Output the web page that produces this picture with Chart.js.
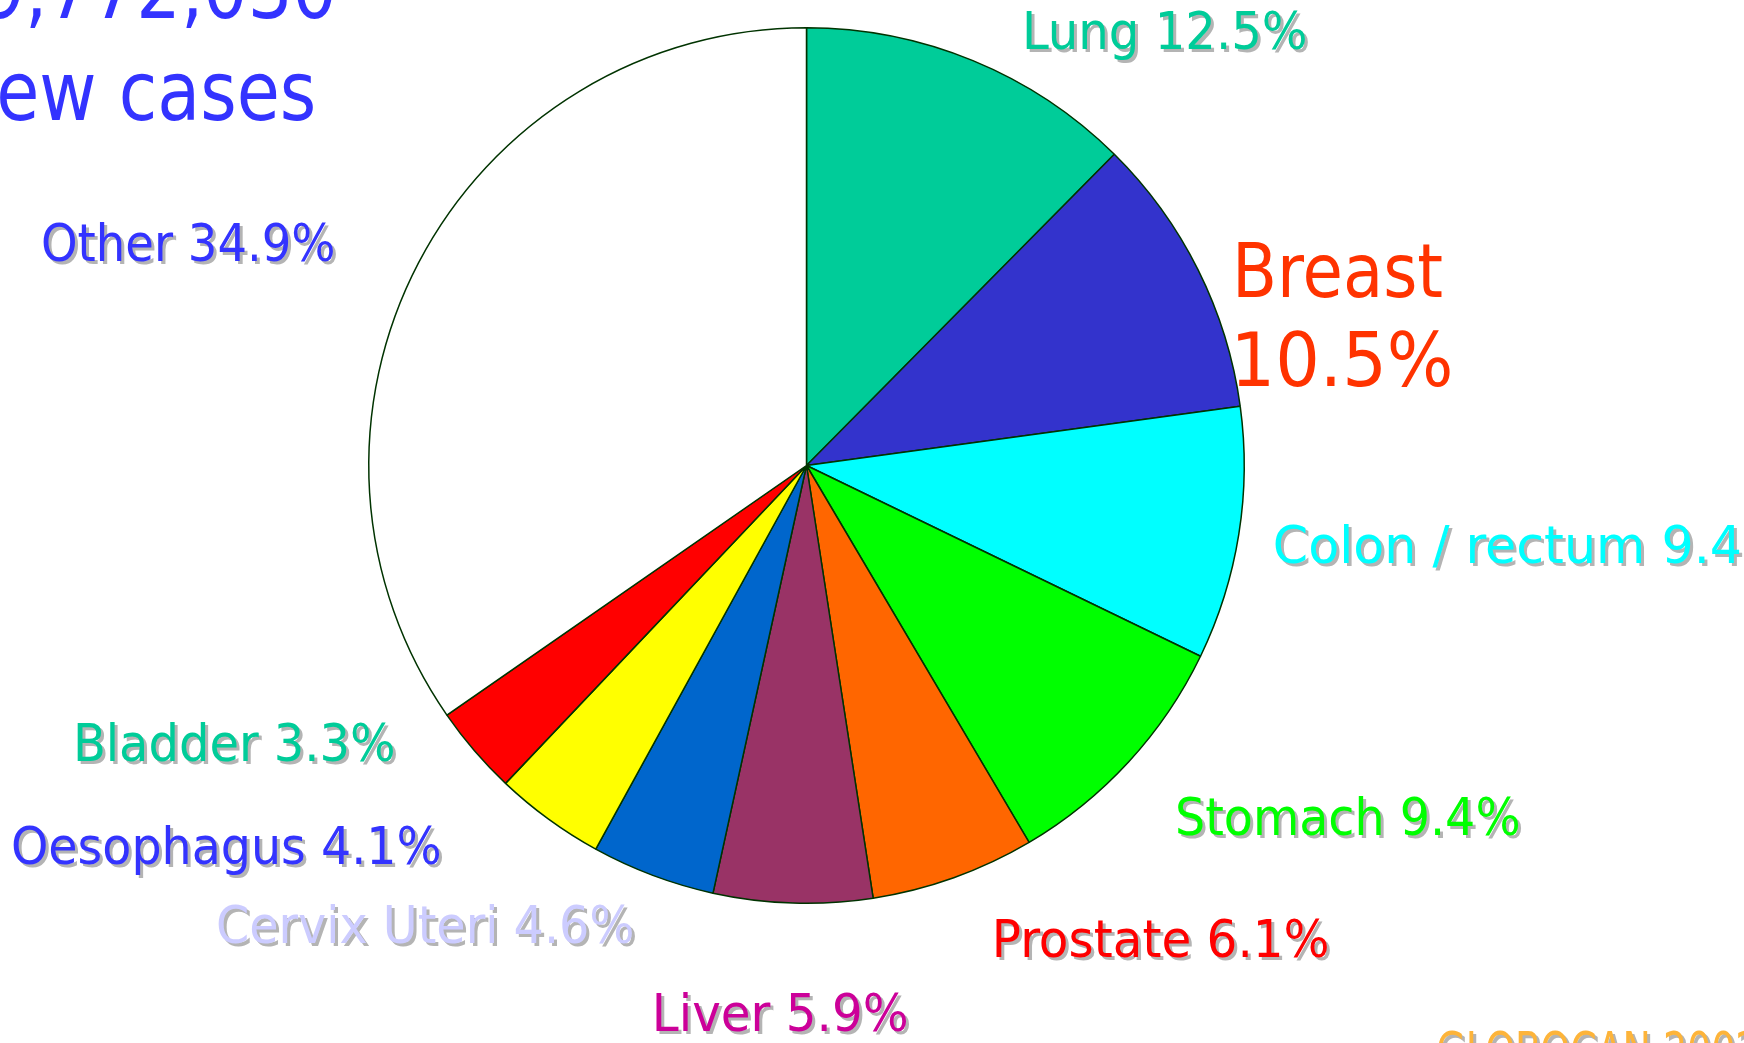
<!DOCTYPE html>
<html>
<head>
<meta charset="utf-8">
<script src="https://cdn.jsdelivr.net/npm/chart.js@4.4.0/dist/chart.umd.min.js"></script>
<style>
  html, body { margin: 0; padding: 0; background: #fff; overflow: hidden; }
  canvas { display: block; }
</style>
</head>
<body>
<canvas id="pie" width="1744" height="1043"></canvas>
<script>
// data
const categories = ['Lung', 'Breast', 'Colon / rectum', 'Stomach', 'Prostate', 'Liver', 'Cervix Uteri', 'Oesophagus', 'Bladder', 'Other'];
const shares = [12.5, 10.5, 9.4, 9.4, 6.1, 5.9, 4.6, 4.1, 3.3, 34.9];
const sliceColors = ['#00cc99', '#3333cc', '#00ffff', '#00ff00', '#ff6600', '#993366', '#0066cc', '#ffff00', '#ff0000', '#ffffff'];
const labelColors = ['#00cc99', '#ff3300', '#00ffff', '#00ff00', '#ff0000', '#cc0099', '#ccccff', '#3333ff', '#00cc99', '#3333ff'];
const titleLines = ['9,772,030', 'New cases'];
const sourceText = 'GLOBOCAN 2002';

// where each label sits (left ink edge, baseline, ink width, cap height)
const labelBoxes = [
  { x: 1026, y: 49,   w: 279, cap: 38, shadow: true },
  { x: 1238, y: 297,  w: 204, cap: 54, shadow: false, split: true, y2: 386, w2: 212 },
  { x: 1275, y: 563,  w: 465, cap: 38, shadow: true, fit: 'Colon / rectum 9.4' },
  { x: 1178, y: 835,  w: 340, cap: 38, shadow: true },
  { x: 996,  y: 957,  w: 331, cap: 38, shadow: true },
  { x: 656,  y: 1031, w: 250, cap: 38, shadow: true },
  { x: 218,  y: 943,  w: 414, cap: 38, shadow: true },
  { x: 13,   y: 864,  w: 426, cap: 38, shadow: true },
  { x: 77,   y: 761,  w: 316, cap: 38, shadow: true },
  { x: 43,   y: 261,  w: 290, cap: 38, shadow: true }
];

const FONT = '"DejaVu Sans Condensed", "DejaVu Sans", sans-serif';

function fitted(ctx, text, x, base, w, cap, color, shadow, fitText) {
  ctx.font = (cap / 0.73).toFixed(1) + 'px ' + FONT;
  const m = ctx.measureText(fitText || text);
  const ink = m.actualBoundingBoxLeft + m.actualBoundingBoxRight;
  const sx = w / ink;
  ctx.save();
  ctx.translate(x, base);
  ctx.scale(sx, 1);
  ctx.textAlign = 'left';
  ctx.textBaseline = 'alphabetic';
  if (shadow) {
    ctx.fillStyle = '#b4b4b4';
    ctx.fillText(text, m.actualBoundingBoxLeft + 3 / sx, 3);
  }
  ctx.fillStyle = color;
  ctx.fillText(text, m.actualBoundingBoxLeft, 0);
  ctx.restore();
}

const labelPlugin = {
  id: 'slideLabels',
  afterDraw(chart) {
    const ctx = chart.ctx;
    ctx.save();

    categories.forEach((cat, i) => {
      const b = labelBoxes[i];
      const pct = shares[i].toFixed(1) + '%';
      if (b.split) {
        fitted(ctx, cat, b.x, b.y, b.w, b.cap, labelColors[i], b.shadow);
        fitted(ctx, pct, b.x, b.y2, b.w2, b.cap, labelColors[i], b.shadow);
      } else {
        fitted(ctx, cat + ' ' + pct, b.x, b.y, b.w, b.cap, labelColors[i], b.shadow, b.fit);
      }
    });

    // big title, clipped at the left edge
    ctx.font = '82px ' + FONT;
    const part = ctx.measureText('ew cases');
    const sx = 313 / (part.actualBoundingBoxLeft + part.actualBoundingBoxRight);
    ctx.fillStyle = '#3333ff';
    [[titleLines[0], 333, 18], [titleLines[1], 313, 120]].forEach(([t, right, base]) => {
      const m = ctx.measureText(t);
      ctx.save();
      ctx.translate(right - m.actualBoundingBoxRight * sx, base);
      ctx.scale(sx, 1);
      ctx.fillText(t, 0, 0);
      ctx.restore();
    });

    fitted(ctx, sourceText, 1438, 1069, 318, 37, '#fdb43a', true);
    ctx.restore();
  }
};

new Chart(document.getElementById('pie'), {
  type: 'pie',
  data: {
    labels: categories,
    datasets: [{
      data: shares,
      backgroundColor: sliceColors,
      borderColor: '#003300',
      borderWidth: 1.5
    }]
  },
  options: {
    responsive: false,
    animation: false,
    layout: { padding: { left: 368, right: 499, top: 27, bottom: 139 } },
    plugins: {
      legend: { display: false },
      tooltip: { enabled: false }
    }
  },
  plugins: [labelPlugin]
});
</script>
</body>
</html>
